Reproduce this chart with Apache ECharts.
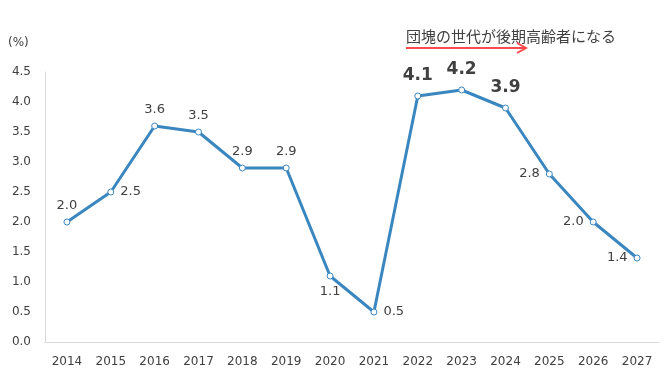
<!DOCTYPE html>
<html><head><meta charset="utf-8">
<script src="https://cdn.jsdelivr.net/npm/echarts@6/dist/echarts.min.js"></script>
<style>html,body{margin:0;padding:0;background:#fff}#c{width:665px;height:380px}</style>
</head><body><div id="c"></div>
<script>
const years = ['2014','2015','2016','2017','2018','2019','2020','2021','2022','2023','2024','2025','2026','2027'];
const values = [2.0,2.5,3.6,3.5,2.9,2.9,1.1,0.5,4.1,4.2,3.9,2.8,2.0,1.4];
const labelPos = ['top','right','top','top','top','top','bottom','right','top','top','top','left','left','left'];
const boldIdx = [8,9,10];
const annotation = '団塊の世代が後期高齢者になる';
const unitLabel = '(%)';

const font = '"Noto Sans CJK JP", "DejaVu Sans", sans-serif';
const data = values.map((v,i)=>{
  const bold = boldIdx.includes(i);
  return {value:v, label:{position:labelPos[i], fontSize: bold?17:13, fontWeight: bold?'bold':'normal', distance: bold?8:6}};
});
const chart = echarts.init(document.getElementById('c'));
chart.setOption({
  animation:false,
  grid:{left:45,right:6,top:72,bottom:38},
  xAxis:{type:'category',data:years,boundaryGap:true,
    axisLine:{lineStyle:{color:'#d9d9d9',width:1}},axisTick:{show:false},
    axisLabel:{color:'#404040',fontSize:12,fontFamily:'"DejaVu Sans", sans-serif',margin:14}},
  yAxis:{type:'value',min:0,max:4.5,interval:0.5,
    axisLine:{show:true,lineStyle:{color:'#d9d9d9'}},splitLine:{show:false},axisTick:{show:false},
    axisLabel:{color:'#404040',fontSize:12,fontFamily:'"DejaVu Sans", sans-serif',margin:14,formatter:v=>v.toFixed(1)}},
  graphic:[
    {type:'text',left:8,top:37,style:{text:unitLabel,fill:'#404040',font:'12px "DejaVu Sans", sans-serif'}},
    {type:'text',left:406,top:29,style:{text:annotation,fill:'#404040',font:'15px '+font}},
    {type:'line',shape:{x1:406,y1:48,x2:526,y2:48},style:{stroke:'#ff4b4b',lineWidth:2}},
    {type:'polyline',shape:{points:[[517,43],[526,48],[517,53]]},style:{stroke:'#ff4b4b',lineWidth:2,fill:null}}
  ],
  series:[{type:'line',data:data,symbol:'circle',symbolSize:6,
    lineStyle:{color:'#3a87c0',width:3},
    itemStyle:{color:'#fff',borderColor:'#3a87c0',borderWidth:1},
    label:{show:true,color:'#404040',fontFamily:'"DejaVu Sans", sans-serif',formatter:p=>p.value.toFixed(1)}}]
});
</script></body></html>
